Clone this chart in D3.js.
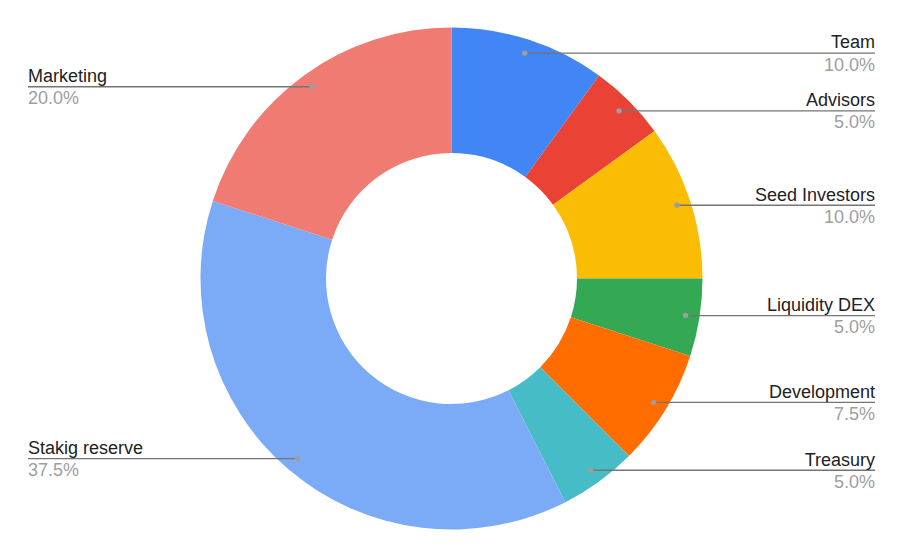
<!DOCTYPE html>
<html>
<head>
<meta charset="utf-8">
<script src="https://cdn.jsdelivr.net/npm/d3@7"></script>
<style>
  body { margin: 0; background: #fff; }
  text { font-family: Arial, "Liberation Sans", sans-serif; }
</style>
</head>
<body>
<div class="viz"></div>
<script>
// slices, clockwise from 12 o'clock
const categories = ['Team', 'Advisors', 'Seed Investors', 'Liquidity DEX', 'Development', 'Treasury', 'Stakig reserve', 'Marketing']
const shares = [10, 5, 10, 5, 7.5, 5, 37.5, 20]
const colors = ['#4285f4', '#ea4335', '#fbbc04', '#34a853', '#ff6d01', '#46bdc6', '#7baaf7', '#f07b72']

const width = 904
const height = 558
const cx = 451.5
const cy = 278.5
const outerR = 251
const innerR = 125.5
const dotR = 237

const svg = d3.select('.viz')
  .append('svg')
    .attr('width', width)
    .attr('height', height)

const data = categories.map((name, i) => ({ name, value: shares[i], color: colors[i] }))

const pie = d3.pie().sort(null).value(d => d.value)
const arc = d3.arc().innerRadius(innerR).outerRadius(outerR)
const arcs = pie(data)

const g = svg.append('g').attr('transform', `translate(${cx},${cy})`)

g.selectAll('path')
  .data(arcs).enter().append('path')
  .attr('d', arc)
  .attr('fill', d => d.data.color)

// leader lines + labels
const total = d3.sum(shares)
const fmt = d3.format('.1f')

svg.append('g')
  .selectAll('g')
  .data(arcs).enter().append('g')
  .each(function (d) {
    const mid = (d.startAngle + d.endAngle) / 2
    const x = cx + dotR * Math.sin(mid)
    const y = cy - dotR * Math.cos(mid)
    const right = Math.sin(mid) >= 0
    const edge = right ? 875 : 28
    const sel = d3.select(this)

    sel.append('line')
      .attr('x1', x).attr('y1', y)
      .attr('x2', edge).attr('y2', y)
      .attr('stroke', '#757575')
      .attr('stroke-width', 1.3)

    sel.append('circle')
      .attr('cx', x).attr('cy', y)
      .attr('r', 2.7)
      .attr('fill', '#9e9e9e')

    sel.append('text')
      .attr('x', edge).attr('y', y - 4.7)
      .attr('text-anchor', right ? 'end' : 'start')
      .attr('font-size', 18)
      .attr('fill', '#222')
      .text(d.data.name)

    sel.append('text')
      .attr('x', edge).attr('y', y + 17.5)
      .attr('text-anchor', right ? 'end' : 'start')
      .attr('font-size', 18)
      .attr('fill', '#9e9e9e')
      .text(fmt(d.data.value / total * 100) + '%')
  })
</script>
</body>
</html>
